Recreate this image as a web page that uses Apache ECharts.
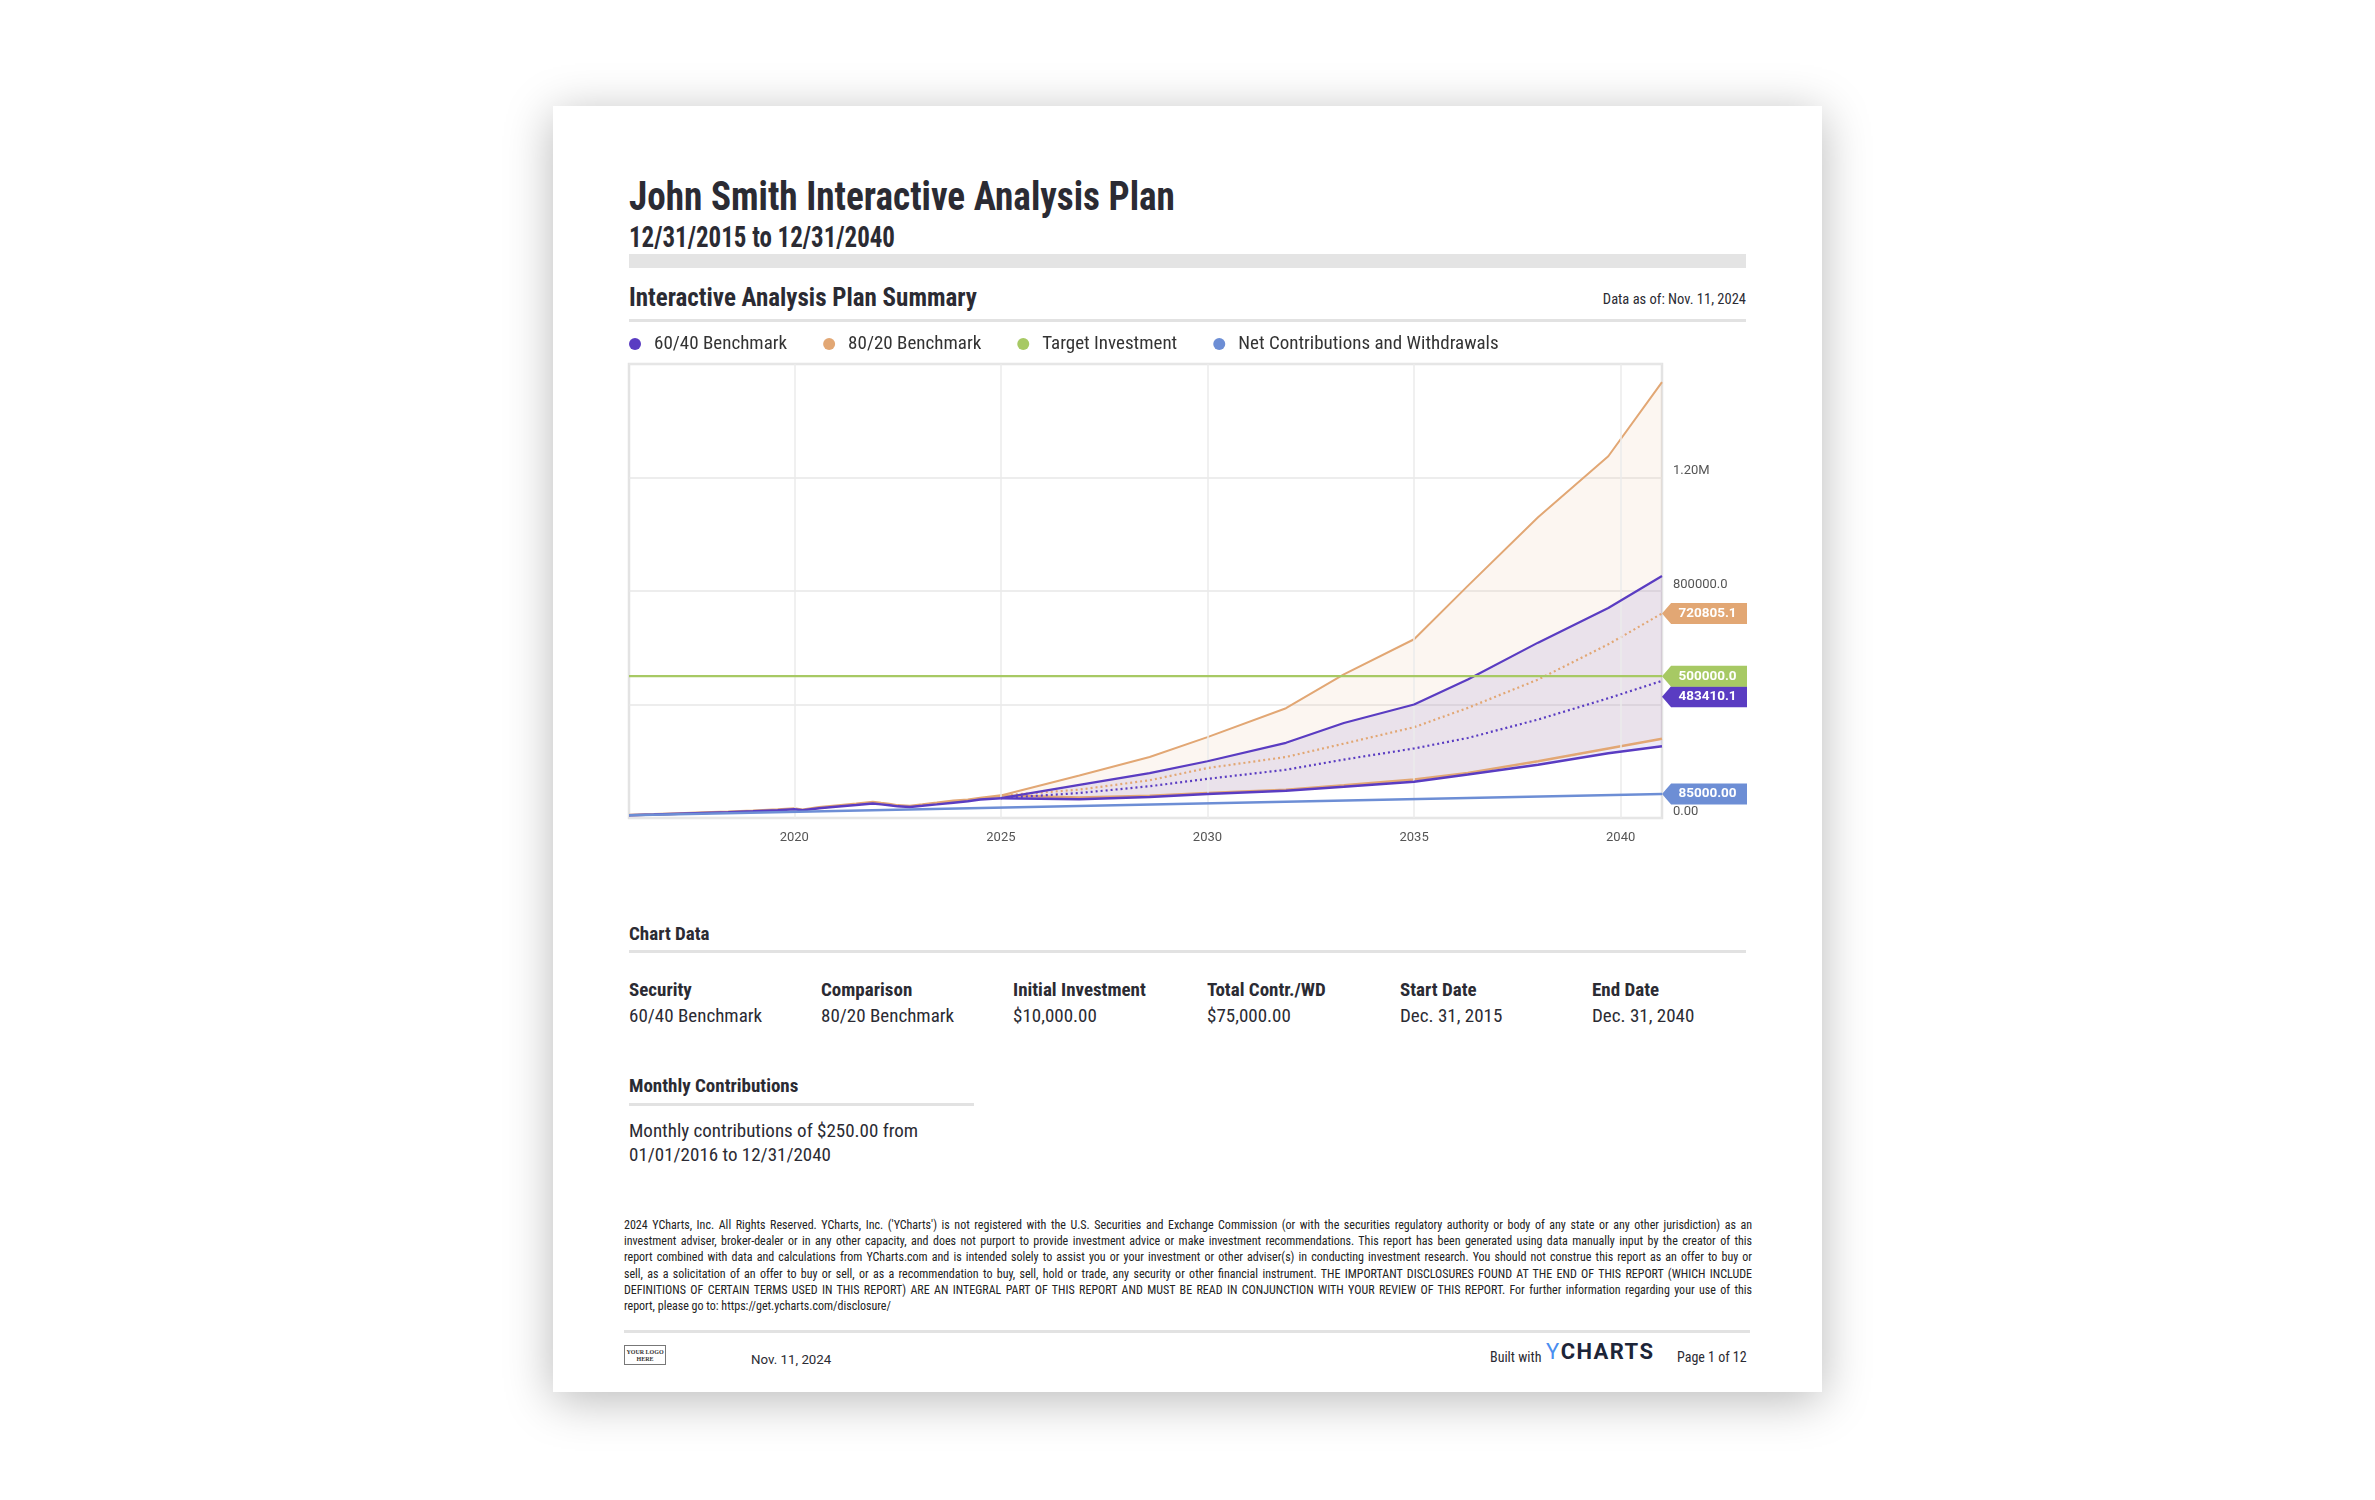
<!DOCTYPE html>
<html>
<head>
<meta charset="utf-8">
<script src="https://cdn.jsdelivr.net/npm/echarts@6/dist/echarts.min.js"></script>
<style>
  html, body { margin: 0; padding: 0; background: #fff; width: 2375px; height: 1500px; overflow: hidden; }
  .page { position: absolute; left: 553px; top: 106px; width: 1269px; height: 1286px; background: #fff;
          box-shadow: 0 8px 45px rgba(0,0,0,0.28); }
  .t { position: absolute; white-space: nowrap; line-height: 1; color: #2b2b33; transform-origin: left center;
       font-family: 'Liberation Sans Narrow', 'Roboto Condensed', Roboto, sans-serif; }
  .b { font-weight: bold; }
  .rule { position: absolute; background: #e2e2e2; }
  .disc { position: absolute; left: 624px; width: 1128px; font-size: 12px; line-height: 1; color: #222;
          font-family: 'Liberation Sans Narrow', 'Roboto Condensed', Roboto, sans-serif;
          white-space: nowrap; text-align: justify; text-align-last: justify; }
  #chart { position: absolute; left: 0; top: 0; width: 2375px; height: 1500px; }
</style>
</head>
<body>
<div class="page"></div>

<div class="t b" style="left:629px;top:176px;font-size:41px;transform:scaleX(0.907);">John Smith Interactive Analysis Plan</div>
<div class="t b" style="left:629px;top:223px;font-size:29px;transform:scaleX(0.86);">12/31/2015 to 12/31/2040</div>
<div class="rule" style="left:629px;top:254px;width:1117px;height:14px;background:#e4e4e4;"></div>
<div class="t b" style="left:629px;top:285px;font-size:25px;">Interactive Analysis Plan Summary</div>
<div class="t" style="right:629px;top:293px;font-size:14.5px;">Data as of: Nov. 11, 2024</div>
<div class="rule" style="left:629px;top:319px;width:1117px;height:3px;"></div>

<div class="t b" style="left:629px;top:924px;font-size:19px;">Chart Data</div>
<div class="rule" style="left:629px;top:950px;width:1117px;height:3px;"></div>
<div id="tbl"></div>

<div class="t b" style="left:629px;top:1076px;font-size:19px;">Monthly Contributions</div>
<div class="rule" style="left:629px;top:1103px;width:345px;height:3px;"></div>
<div class="t" style="left:629px;top:1121px;font-size:19px;">Monthly contributions of $250.00 from</div>
<div class="t" style="left:629px;top:1145px;font-size:19px;">01/01/2016 to 12/31/2040</div>

<div id="disc"></div>

<div class="rule" style="left:624px;top:1330px;width:1126px;height:3px;"></div>
<div style="position:absolute;left:624px;top:1345px;width:42px;height:20px;border:1px solid #777;
            font:bold 6px/7px 'Liberation Serif', serif;text-align:center;color:#333;padding-top:3px;box-sizing:border-box;">YOUR LOGO<br>HERE</div>
<div class="t" style="left:751px;top:1353px;font-size:13.3px;font-family:Roboto, sans-serif;">Nov. 11, 2024</div>
<div class="t" style="left:1490px;top:1350px;font-size:14px;">Built with</div>
<div class="t b" style="left:1546px;top:1341px;font-size:22px;font-family:Roboto, sans-serif;letter-spacing:1.4px;"><span style="color:#4a8ef0;font-weight:normal;">Y</span><span style="color:#1d2538;">CHARTS</span></div>
<div class="t" style="left:1677px;top:1350px;font-size:14px;">Page 1 of 12</div>

<div id="chart"></div>

<script>
// ---- table / text data ----
const tableHeaders = ['Security', 'Comparison', 'Initial Investment', 'Total Contr./WD', 'Start Date', 'End Date'];
const tableValues = ['60/40 Benchmark', '80/20 Benchmark', '$10,000.00', '$75,000.00', 'Dec. 31, 2015', 'Dec. 31, 2040'];
const tableColX = [629, 821, 1013, 1207, 1400, 1592];

const disclaimerLines = [
  "2024 YCharts, Inc. All Rights Reserved. YCharts, Inc. ('YCharts') is not registered with the U.S. Securities and Exchange Commission (or with the securities regulatory authority or body of any state or any other jurisdiction) as an",
  "investment adviser, broker-dealer or in any other capacity, and does not purport to provide investment advice or make investment recommendations. This report has been generated using data manually input by the creator of this",
  "report combined with data and calculations from YCharts.com and is intended solely to assist you or your investment or other adviser(s) in conducting investment research. You should not construe this report as an offer to buy or",
  "sell, as a solicitation of an offer to buy or sell, or as a recommendation to buy, sell, hold or trade, any security or other financial instrument. THE IMPORTANT DISCLOSURES FOUND AT THE END OF THIS REPORT (WHICH INCLUDE",
  "DEFINITIONS OF CERTAIN TERMS USED IN THIS REPORT) ARE AN INTEGRAL PART OF THIS REPORT AND MUST BE READ IN CONJUNCTION WITH YOUR REVIEW OF THIS REPORT. For further information regarding your use of this",
  "report, please go to: https://get.ycharts.com/disclosure/"
];

// ---- chart data ----
const xTickYears = [2020, 2025, 2030, 2035, 2040];
const yTickValues = [0, 400000, 800000, 1200000, 1600000];
const yTickLabels = ['0.00', '', '800000.0', '1.20M', ''];

const histYears = [2016.0, 2016.6, 2017.2, 2017.8, 2018.4, 2019.0, 2019.6, 2020.0, 2020.2, 2020.6, 2021.0, 2021.5,
                   2021.9, 2022.1, 2022.3, 2022.5, 2022.8, 2023.1, 2023.45, 2023.85, 2024.2, 2024.5, 2025.0];
const hist8020 = [10000, 12500, 15500, 18500, 21500, 25000, 29000, 33000, 29000, 37000, 43000, 50000,
                  56000, 52000, 49000, 44000, 42000, 47000, 53000, 60000, 64000, 70000, 79000];
const hist6040 = [10000, 12300, 15000, 17800, 20500, 23500, 27000, 30500, 27500, 34500, 40000, 46000,
                  51000, 48000, 45000, 41000, 39000, 43000, 48000, 54000, 59000, 65000, 70000];

const projYears = [2025.0, 2026.9, 2028.6, 2030.0, 2031.9, 2033.3, 2035.0, 2036.3, 2038.0, 2039.7, 2041.0];
const high8020 = [79000, 150000, 215000, 285000, 387000, 506000, 630000, 818000, 1060000, 1275000, 1536000];
const mid8020 = [79000, 100000, 133000, 176000, 215000, 262000, 320000, 388000, 488000, 612000, 720805.1];
const low8020 = [79000, 72000, 78000, 88000, 100000, 115000, 136000, 159000, 200000, 245000, 279000];
const high6040 = [70000, 117000, 158000, 200000, 265000, 335000, 400000, 488000, 618000, 740000, 853000];
const mid6040 = [70000, 88000, 112000, 138000, 170000, 206000, 245000, 282000, 347000, 422000, 483410.1];
const low6040 = [70000, 66000, 74000, 85000, 96000, 110000, 128000, 153000, 188000, 228000, 253000];

const netYears = [2016.0, 2041.0];
const netValues = [10000, 85000];
const targetYears = [2016.0, 2041.0];
const targetValues = [500000, 500000];

const C6040 = '#5a3cc2';
const C8020 = '#e2a774';
const CTARGET = '#a7c964';
const CNET = '#6d8ed5';
const COND = "'Liberation Sans Narrow', 'Roboto Condensed', Roboto, sans-serif";

// ---- html parts ----
let tblHtml = '';
tableHeaders.forEach((h, i) => {
  tblHtml += `<div class="t b" style="left:${tableColX[i]}px;top:980px;font-size:19px;">${h}</div>`;
  tblHtml += `<div class="t" style="left:${tableColX[i]}px;top:1006px;font-size:19px;">${tableValues[i]}</div>`;
});
document.getElementById('tbl').innerHTML = tblHtml;

let discHtml = '';
disclaimerLines.forEach((line, i) => {
  const last = i === disclaimerLines.length - 1;
  discHtml += `<div class="disc" style="top:${1219 + i * 16.2}px;${last ? 'text-align-last:left;' : ''}">${line}</div>`;
});
document.getElementById('disc').innerHTML = discHtml;

// ---- chart ----
const pairs = (xs, ys) => xs.map((x, i) => [x, ys[i]]);
const tagText = (v) => Number(v).toPrecision(7);

const tag = (value, color, dy) => ({
  symbol: 'path://M0,10L9,0L84,0L84,20L9,20Z',
  symbolSize: [85, 21],
  symbolKeepAspect: false,
  silent: true,
  data: [{
    coord: [projYears[projYears.length - 1], value],
    symbolOffset: [42.5, dy || 0],
    itemStyle: { color: color },
    label: {
      show: true, position: 'inside', formatter: tagText(value), color: '#fff',
      fontFamily: 'Roboto', fontWeight: 'bold', fontSize: 13.5, offset: [3, 0]
    }
  }]
});

// filled range between a low and a high projection
const band = (name, hi, lo, fill, z) => ({
  type: 'custom', name: name, silent: true, z: z,
  data: projYears.map((x, i) => [x, lo[i], hi[i]]),
  encode: { x: 0, y: [1, 2] },
  renderItem: (params, api) => {
    if (params.dataIndex !== 0) return null;
    const top = projYears.map((x, i) => api.coord([x, hi[i]]));
    const bottom = projYears.map((x, i) => api.coord([x, lo[i]])).reverse();
    return { type: 'polygon', shape: { points: top.concat(bottom) }, style: { fill: fill } };
  }
});

const lineBase = { type: 'line', symbol: 'none', showSymbol: false, silent: true, animation: false };

const chart = echarts.init(document.getElementById('chart'), null, { renderer: 'canvas' });
chart.setOption({
  animation: false,
  legend: {
    left: 629, top: 334.5, padding: 0, icon: 'circle', itemWidth: 12, itemHeight: 12, itemGap: 36,
    textStyle: { fontFamily: COND, fontSize: 19, color: '#333', padding: [0, 0, 0, 8] },
    data: [
      { name: '60/40 Benchmark', itemStyle: { color: C6040 } },
      { name: '80/20 Benchmark', itemStyle: { color: C8020 } },
      { name: 'Target Investment', itemStyle: { color: CTARGET } },
      { name: 'Net Contributions and Withdrawals', itemStyle: { color: CNET } }
    ],
    selectedMode: false
  },
  grid: {
    left: 629, top: 364, width: 1033, height: 454,
    show: true, borderColor: '#e3e3e3', borderWidth: 2.5, backgroundColor: 'transparent'
  },
  xAxis: {
    type: 'value', min: 2016, max: 2041, interval: 1,
    axisLine: { show: false }, axisTick: { show: false }, splitLine: { show: false },
    axisLabel: {
      margin: 13, color: '#555', fontFamily: 'Roboto', fontSize: 13,
      formatter: (v) => xTickYears.includes(v) ? String(v) : ''
    }
  },
  yAxis: {
    type: 'value', position: 'right', min: 0, max: 1600000, interval: 400000,
    axisLine: { show: false }, axisTick: { show: false },
    splitLine: { lineStyle: { color: '#e7e7e7', width: 1.5 } },
    axisLabel: {
      margin: 11, color: '#555', fontFamily: 'Roboto', fontSize: 13, verticalAlign: 'bottom',
      formatter: (v) => { const i = yTickValues.indexOf(v); return i >= 0 ? yTickLabels[i] : ''; }
    }
  },
  series: [
    // vertical year grid lines
    Object.assign({}, lineBase, { name: 'grid', data: [], z: 1,
      markLine: { silent: true, symbol: 'none', label: { show: false },
        lineStyle: { color: '#ebebeb', width: 1.5, type: 'solid' },
        data: xTickYears.map((y) => ({ xAxis: y })) } }),
    // projection ranges
    band('80/20 Benchmark', high8020, low8020, 'rgba(226,167,116,0.1)', 2),
    band('60/40 Benchmark', high6040, low6040, 'rgba(90,60,194,0.11)', 3),
    // 80/20 lines
    Object.assign({}, lineBase, { name: '80/20 Benchmark', data: pairs(histYears, hist8020), z: 4,
      lineStyle: { color: C8020, width: 2.8 }, itemStyle: { color: C8020 } }),
    Object.assign({}, lineBase, { name: '80/20 Benchmark', data: pairs(projYears, high8020), z: 4,
      lineStyle: { color: C8020, width: 2 }, itemStyle: { color: C8020 } }),
    Object.assign({}, lineBase, { name: '80/20 Benchmark', data: pairs(projYears, low8020), z: 4,
      lineStyle: { color: C8020, width: 2.5 }, itemStyle: { color: C8020 } }),
    Object.assign({}, lineBase, { name: '80/20 Benchmark', data: pairs(projYears, mid8020), z: 4,
      lineStyle: { color: C8020, width: 2.2, type: [2, 3] }, itemStyle: { color: C8020 },
      markPoint: tag(mid8020[mid8020.length - 1], C8020, 0) }),
    // 60/40 lines
    Object.assign({}, lineBase, { name: '60/40 Benchmark', data: pairs(histYears, hist6040), z: 5,
      lineStyle: { color: C6040, width: 2.5 }, itemStyle: { color: C6040 } }),
    Object.assign({}, lineBase, { name: '60/40 Benchmark', data: pairs(projYears, high6040), z: 5,
      lineStyle: { color: C6040, width: 2.2 }, itemStyle: { color: C6040 } }),
    Object.assign({}, lineBase, { name: '60/40 Benchmark', data: pairs(projYears, low6040), z: 5,
      lineStyle: { color: C6040, width: 2.5 }, itemStyle: { color: C6040 } }),
    Object.assign({}, lineBase, { name: '60/40 Benchmark', data: pairs(projYears, mid6040), z: 5,
      lineStyle: { color: C6040, width: 2.2, type: [2, 3] }, itemStyle: { color: C6040 },
      markPoint: tag(mid6040[mid6040.length - 1], C6040, 16) }),
    // target and contributions
    Object.assign({}, lineBase, { name: 'Target Investment', data: pairs(targetYears, targetValues), z: 6,
      lineStyle: { color: CTARGET, width: 2.2 }, itemStyle: { color: CTARGET },
      markPoint: tag(targetValues[targetValues.length - 1], CTARGET, 0) }),
    Object.assign({}, lineBase, { name: 'Net Contributions and Withdrawals', data: pairs(netYears, netValues), z: 6,
      lineStyle: { color: CNET, width: 2.5 }, itemStyle: { color: CNET },
      markPoint: tag(netValues[netValues.length - 1], CNET, 0) })
  ]
});
</script>
</body>
</html>
